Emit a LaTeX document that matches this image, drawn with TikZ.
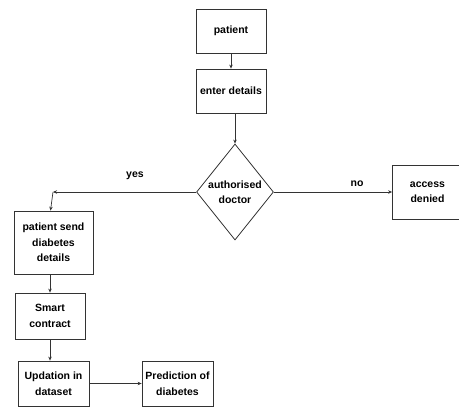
\documentclass[tikz,border=0pt]{standalone}
\usepackage{fontspec}
\setmainfont{Liberation Sans}
\usetikzlibrary{arrows.meta}
\usetikzlibrary{shapes.geometric}
\usetikzlibrary{shadows}

\begin{document}
\begin{tikzpicture}[x=1pt, y=-1pt,
  every node/.style={font=\bfseries\fontsize{10.5}{15.5}\selectfont, align=center},
  box/.style={draw=black!80, fill=white, line width=0.8pt, inner sep=2pt,
    drop shadow={opacity=0.2, shadow xshift=1pt, shadow yshift=-1pt}},
  decide/.style={diamond, draw=black!80, fill=white, line width=0.8pt, inner sep=0pt},
  link/.style={draw=black!80, line width=0.7pt, -{Stealth[length=4pt, width=3.5pt]}}]

  \useasboundingbox (0,0) rectangle (459,409);

  % draw boxes
  \node[box, minimum width=70pt, minimum height=44pt] (patient) at (231,31) {patient};
  \node[box, minimum width=70pt, minimum height=44pt] (enter) at (231,91) {enter details};
  \node[decide, minimum width=77pt, minimum height=96pt] (auth) at (235,192) {authorised\\doctor};
  \node[box, minimum width=70pt, minimum height=54pt] (denied) at (427.5,192) {access\\denied};
  \node[box, minimum width=79pt, minimum height=63pt] (send) at (53.5,242.5) {patient send\\diabetes\\details};
  \node[box, minimum width=70pt, minimum height=46pt] (smart) at (50,316) {Smart\\contract};
  \node[box, minimum width=71pt, minimum height=45pt] (update) at (53.5,383.5) {Updation in\\dataset};
  \node[box, minimum width=71pt, minimum height=45pt] (predict) at (177.5,383.5) {Prediction of\\diabetes};

  % draw connectors
  \coordinate (yescorner) at (53,192);
  \draw[link] (patient) -- (enter);
  \draw[link] (enter.south -| auth.north) -- (auth.north);
  \draw[link] (auth.west) -- (yescorner);
  \draw[link] (yescorner) -- ([xshift=-3pt]send.north);
  \draw[link] (auth.east) -- (denied.west);
  \draw[link] (smart.north |- send.south) -- (smart.north);
  \draw[link] (smart.south) -- (smart.south |- update.north);
  \draw[link] (update.east) -- (predict.west);

  % label branches
  \node (yes) at (135,176) {yes};
  \node (no) at (357,184) {no};
\end{tikzpicture}
\end{document}
